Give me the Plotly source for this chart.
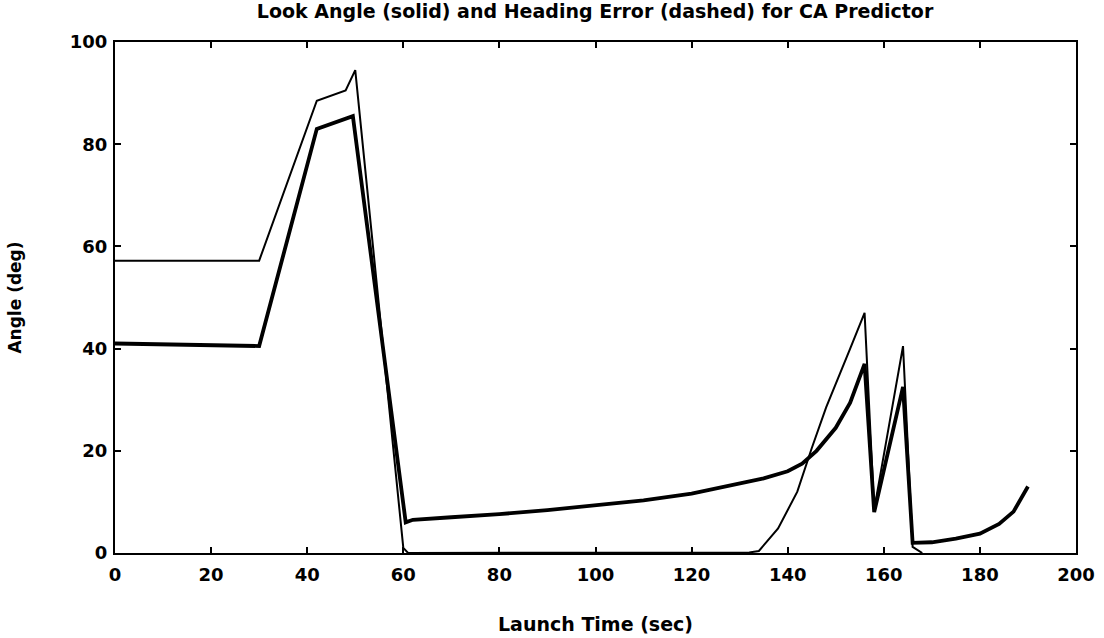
import plotly.graph_objects as go

# Look angle / heading error data
thin_x = [0, 30, 42, 48, 50, 60, 61, 100, 130, 132, 134, 138, 142, 145, 148, 150, 153, 156, 158, 164, 166, 168]
thin_y = [57.2, 57.2, 88.5, 90.5, 94.5, 1.0, 0, 0, 0, 0.1, 0.4, 4.8, 12, 20.5, 28.5, 33, 40, 47, 8.5, 40.5, 1.2, 0]

thick_x = [0, 30, 42, 49.5, 60.5, 62, 70, 80, 90, 100, 110, 120, 130, 135, 140, 143, 146, 150, 153, 156, 158, 164, 166, 170, 175, 180, 184, 187, 190]
thick_y = [41, 40.5, 83, 85.5, 6, 6.5, 7, 7.6, 8.4, 9.3, 10.3, 11.6, 13.5, 14.6, 16, 17.5, 20, 24.5, 29.4, 37, 8, 32.5, 2, 2.1, 2.8, 3.8, 5.7, 8.1, 13]

x_ticks = [0, 20, 40, 60, 80, 100, 120, 140, 160, 180, 200]
y_ticks = [0, 20, 40, 60, 80, 100]

font_family = "DejaVu Sans"

fig = go.Figure()
fig.add_trace(go.Scatter(x=thin_x, y=thin_y, mode="lines",
                         line=dict(color="black", width=2), showlegend=False))
fig.add_trace(go.Scatter(x=thick_x, y=thick_y, mode="lines",
                         line=dict(color="black", width=3.8), showlegend=False))

axis_common = dict(
    showgrid=False, zeroline=False, showline=True, linecolor="black", linewidth=2,
    mirror="ticks", ticks="inside", ticklen=6, tickwidth=2, tickcolor="black",
    automargin=False,
    tickfont=dict(family=font_family, size=18, color="black", weight="bold"),
)

fig.update_layout(
    width=1104, height=638,
    margin=dict(l=115, r=28, t=42, b=85),
    paper_bgcolor="white", plot_bgcolor="white",
    title=dict(text="Look Angle (solid) and Heading Error (dashed) for CA Predictor",
               x=0.539, xanchor="center", y=1 - 5 / 638, yanchor="top",
               font=dict(family=font_family, size=19, color="black", weight="bold")),
    xaxis=dict(range=[0, 200], tickvals=x_ticks, ticklabelstandoff=4,
               title=dict(text="Launch Time (sec)", standoff=34,
                          font=dict(family=font_family, size=19, color="black", weight="bold")),
               **axis_common),
    yaxis=dict(range=[0, 100], tickvals=y_ticks, ticklabelstandoff=2,
               title=dict(text="Angle (deg)", standoff=44,
                          font=dict(family=font_family, size=17, color="black", weight="bold")),
               **axis_common),
)

fig.write_html("out.html")
